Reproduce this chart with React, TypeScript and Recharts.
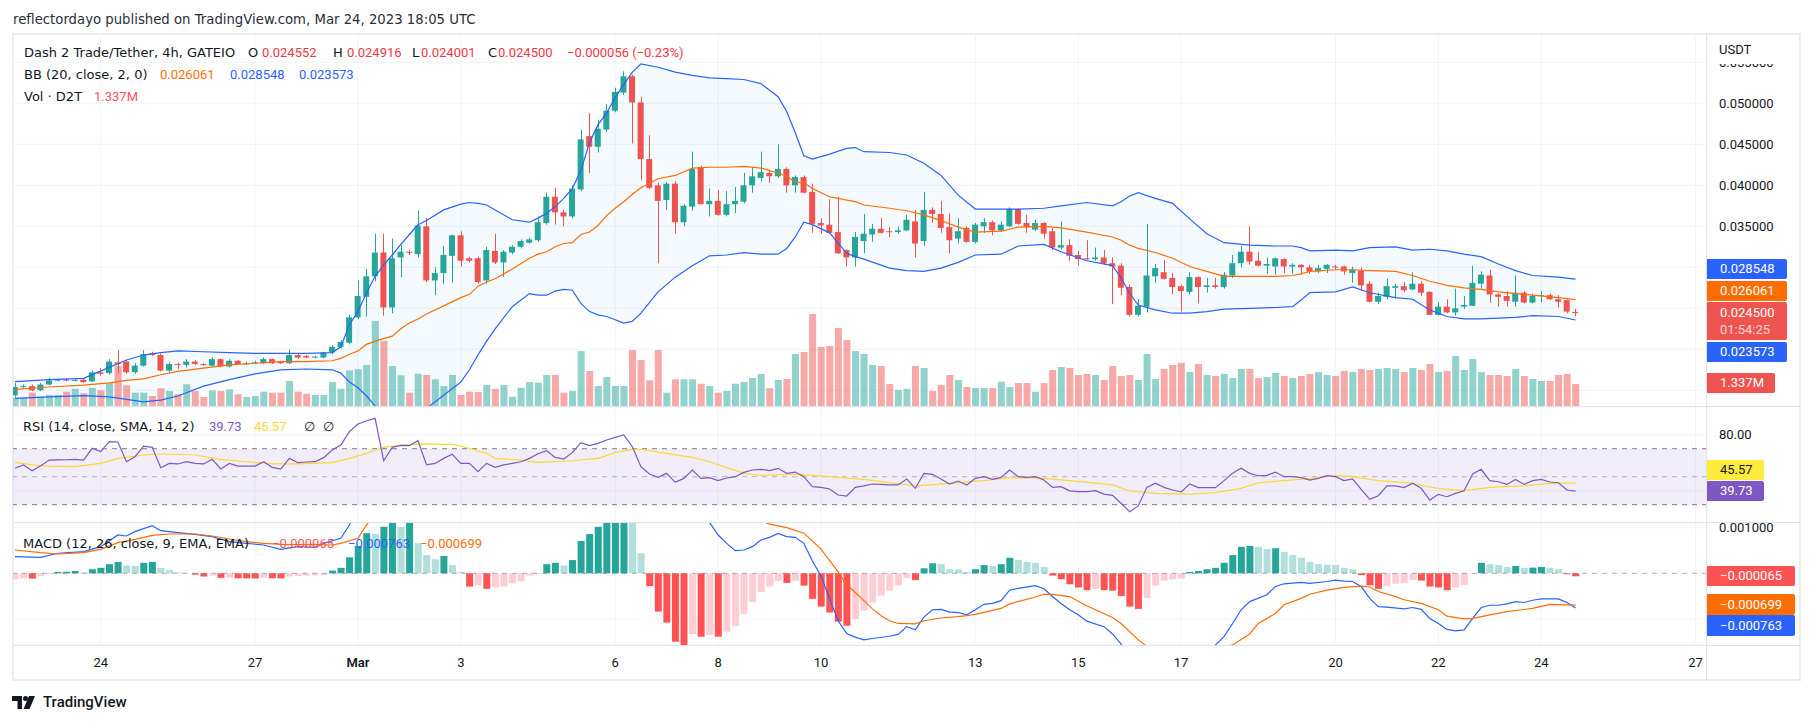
import React from 'react';
import { ComposedChart, Bar, Line, Area, XAxis, YAxis, CartesianGrid, ReferenceLine, ReferenceArea, Cell } from 'recharts';

// ---------- DATA ----------
const FIRST_INDEX = -10; // 4h candles, index 0 = Feb 24 00:00
const opens = [.0144,.0154,.0155,.0150,.0157,.0162,.0163,.0162,.0163,.0161,
.0172,.0171,.0184,.0185,.0172,.0180,.0195,.0193,.0174,.0182,.0181,.0185,.0182,.0180,.0188,.0179,.0186,.0182,.0183,.0183,
.0188,.0185,.0183,.0193,.0192,.0190,.0190,.0196,.0203,.0208,.0239,.0264,.0289,.0318,.0251,.0312,.0319,.0316,.0350,.0284,
.0293,.0314,.0339,.0311,.0311,.0284,.0320,.0306,.0318,.0325,.0330,.0333,.0354,.0386,.0367,.0362,.0395,.0460,.0447,.0468,
.0491,.0513,.0533,.0501,.0432,.0400,.0382,.0402,.0355,.0374,.0422,.0377,.0381,.0364,.0377,.0380,.0400,.0409,.0415,.0411,
.0420,.0400,.0410,.0392,.0354,.0352,.0343,.0321,.0312,.0332,.0340,.0347,.0344,.0343,.0345,.0356,.0332,.0370,.0365,.0349,
.0335,.0348,.0331,.0350,.0355,.0345,.0350,.0371,.0354,.0346,.0354,.0344,.0324,.0327,.0315,.0311,.0310,.0312,.0305,.0302,
.0276,.0242,.0252,.0289,.0294,.0287,.0277,.0270,.0288,.0276,.0278,.0276,.0290,.0305,.0319,.0308,.0302,.0301,.0310,.0301,
.0303,.0300,.0295,.0298,.0301,.0301,.0293,.0296,.0280,.0258,.0264,.0275,.0277,.0273,.0280,.0270,.0242,.0252,.0245,.0252,
.0253,.0280,.0290,.0267,.0265,.0258,.0269,.0257,.0265,.0266,.0261,.0260,.024552];
const highs = [.0159,.0157,.0157,.0159,.0165,.0164,.0165,.0164,.0164,.0174,
.0177,.0188,.0199,.0187,.0183,.0199,.0197,.0195,.0184,.0184,.0188,.0187,.0183,.0190,.0189,.0188,.0187,.0185,.0186,.0190,
.0189,.0186,.0200,.0194,.0193,.0192,.0197,.0205,.0211,.0242,.0284,.0298,.0341,.0341,.0335,.0327,.0321,.0369,.0360,.0300,
.0326,.0340,.0344,.0313,.0313,.0325,.0341,.0321,.0327,.0334,.0336,.0362,.0391,.0397,.0370,.0400,.0468,.0488,.0480,.0499,
.0519,.0539,.0535,.0508,.0461,.0403,.0404,.0405,.0377,.0441,.0424,.0396,.0394,.0393,.0398,.0415,.0421,.0441,.0419,.0450,
.0422,.0412,.0412,.0402,.0360,.0383,.0386,.0322,.0343,.0365,.0353,.0360,.0349,.0350,.0364,.0370,.0392,.0373,.0381,.0366,
.0360,.0350,.0354,.0360,.0357,.0356,.0373,.0372,.0364,.0358,.0355,.0348,.0356,.0334,.0320,.0333,.0324,.0321,.0312,.0305,
.0279,.0261,.0353,.0304,.0309,.0293,.0279,.0294,.0289,.0287,.0287,.0294,.0315,.0326,.0350,.0319,.0312,.0312,.0311,.0305,
.0304,.0303,.0303,.0304,.0303,.0302,.0301,.0300,.0283,.0269,.0286,.0280,.0282,.0294,.0283,.0271,.0258,.0261,.0274,.0265,
.0302,.0295,.0297,.0268,.0271,.0290,.0271,.0268,.0271,.0268,.0266,.0261,.024916];
const lows = [.0142,.0152,.0149,.0149,.0156,.0161,.0161,.0161,.0159,.0160,
.0168,.0169,.0170,.0170,.0170,.0179,.0192,.0173,.0172,.0176,.0178,.0181,.0180,.0179,.0178,.0178,.0181,.0181,.0182,.0182,
.0182,.0182,.0182,.0188,.0189,.0189,.0189,.0194,.0201,.0206,.0237,.0240,.0283,.0241,.0244,.0288,.0315,.0312,.0282,.0266,
.0280,.0281,.0301,.0306,.0280,.0280,.0304,.0288,.0316,.0323,.0329,.0331,.0352,.0352,.0350,.0360,.0393,.0415,.0440,.0465,
.0489,.0510,.0451,.0406,.0395,.0305,.0370,.0341,.0350,.0369,.0377,.0362,.0363,.0362,.0366,.0378,.0391,.0405,.0403,.0409,
.0391,.0391,.0390,.0342,.0341,.0341,.0316,.0301,.0301,.0317,.0331,.0341,.0337,.0341,.0344,.0312,.0326,.0354,.0342,.0317,
.0329,.0330,.0329,.0342,.0339,.0343,.0349,.0352,.0342,.0344,.0335,.0321,.0322,.0308,.0302,.0309,.0308,.0303,.0255,.0266,
.0240,.0240,.0245,.0281,.0285,.0267,.0246,.0267,.0256,.0269,.0274,.0274,.0287,.0300,.0303,.0301,.0292,.0291,.0293,.0292,
.0293,.0292,.0293,.0293,.0297,.0291,.0281,.0271,.0257,.0255,.0261,.0262,.0270,.0272,.0265,.0242,.0241,.0244,.0241,.0249,
.0253,.0274,.0257,.0252,.0252,.0252,.0256,.0256,.0257,.0260,.0251,.0244,.024001];
const closes = [.0154,.0155,.0150,.0157,.0162,.0163,.0162,.01625,.0160,.0172,
.0170,.0185,.0182,.0172,.0180,.0194,.0193,.0174,.0182,.0181,.0185,.0182,.0181,.0188,.0179,.0186,.0182,.0183,.0184,.0188,
.0183,.0183,.0193,.0190,.0190,.0191,.0196,.0203,.0209,.0239,.0265,.0289,.0318,.0251,.0311,.0319,.0318,.0351,.0284,.0293,
.0315,.0339,.0308,.0308,.0282,.0321,.0306,.0319,.0325,.0332,.0334,.0355,.0386,.0367,.0362,.0396,.0456,.0447,.0469,.0491,
.0514,.0533,.0501,.0432,.0397,.0381,.0402,.0355,.0375,.0420,.0377,.0381,.0364,.0377,.0381,.0400,.0411,.0416,.0411,.0420,
.0400,.0410,.0391,.0353,.0351,.0342,.0317,.0312,.0337,.0341,.0347,.0342,.0343,.0345,.0358,.0329,.0370,.0365,.0348,.0333,
.0344,.0331,.0352,.0355,.0345,.0352,.0371,.0353,.0349,.0354,.0341,.0324,.0327,.0314,.0310,.0310,.0312,.0305,.0301,.0275,
.0242,.0253,.0290,.0299,.0286,.0276,.0271,.0288,.0276,.0278,.0276,.0291,.0305,.0319,.0307,.0302,.0304,.0311,.0301,.0303,
.0300,.0295,.0299,.0303,.0300,.0295,.0297,.0278,.0258,.0265,.0277,.0277,.0272,.0280,.0269,.0242,.0252,.0245,.0250,.0254,
.0281,.0291,.0267,.0264,.0259,.0269,.0257,.0265,.0266,.0261,.0258,.0246,.0245];
// volume in millions
const volumes = [0.54,0.54,0.83,0.60,0.70,0.70,0.89,1.06,0.80,1.12,
0.97,1.38,2.38,1.26,0.83,0.83,0.64,1.09,0.93,0.74,1.32,0.93,0.58,0.97,0.93,1.03,0.74,0.58,0.64,0.89,
0.83,0.83,1.51,0.89,0.77,0.70,0.70,1.45,1.06,2.13,2.19,2.44,5.00,3.83,2.38,1.84,0.83,1.93,1.86,1.61,
1.22,1.86,0.70,0.89,0.87,1.28,1.06,1.28,0.60,1.12,1.45,1.41,1.86,1.86,0.83,0.93,3.25,2.09,1.22,1.74,
1.22,1.22,3.31,2.73,1.55,3.31,0.83,1.61,1.61,1.61,1.35,1.22,0.83,0.93,1.35,1.45,1.68,1.92,1.10,1.57,
1.63,3.08,3.20,5.40,3.49,3.54,4.59,3.89,3.25,3.08,2.44,2.38,1.34,0.99,1.05,2.38,2.27,0.93,1.28,1.86,
1.57,1.16,1.10,1.10,1.10,1.47,1.16,1.39,1.39,0.89,1.39,2.15,2.32,2.27,1.86,1.92,1.86,1.57,2.38,1.80,
1.86,1.57,3.08,1.63,2.21,2.44,2.56,2.03,2.50,1.86,1.80,1.92,1.68,2.21,2.21,1.68,1.74,1.98,1.80,1.68,
1.80,1.92,2.03,1.86,1.80,2.09,2.03,2.21,2.15,2.21,2.27,2.21,2.03,2.27,2.15,2.50,2.03,2.09,2.96,2.15,
2.79,2.03,1.86,1.86,1.80,2.21,1.80,1.63,1.51,1.51,1.86,1.92,1.337];

// Bollinger Bands (20, 2) read at selected candles
const bbIdx = [-10,-6,-2,1,3,5,7,9,12,15,18,21,24,27,28,29,30,31,32,33,34,35,36,37,38,40,42,43,44,45,46,48,50,51,52,53,54,55,56,57,58,59,60,61,62,63,65,67,69,71,73,75,77,79,80,81,82,83,85,87,88,89,92,94,96,98,100,102,105,107,110,112,115,118,119,120,121,123,125,127,129,131,134,137,139,140,141,144,146,148,151,153,155,157,159,161,163,165,167,170,172];
const bbUpper = [.01605,.0163,.01646,.0178,.0187,.0193,.0196,.0198,.0197,.0196,.0195,.0195,.0195,.0196,.0203,.0230,.0246,.0269,.0289,.0303,.0315,.0328,.0340,.0352,.0357,.0370,.0377,.0379,.0378,.0376,.0370,.0358,.0355,.0360,.0366,.0374,.0384,.0396,.0418,.0452,.0474,.0488,.0507,.0523,.0538,.0548,.0544,.0538,.0534,.0531,.0530,.0529,.0524,.0508,.0490,.0464,.0436,.0432,.0438,.0445,.0446,.0441,.0440,.0437,.0427,.0412,.0388,.0371,.0371,.0371,.0372,.0375,.0379,.0375,.0380,.0387,.0391,.0384,.0378,.0359,.0341,.0330,.0327,.0326,.0326,.0324,.0320,.0321,.0320,.0324,.0325,.0321,.0322,.0320,.0316,.0313,.0304,.0296,.0290,.0288,.028548];
const bbMid = [.01512,.0154,.01563,.0159,.0162,.0164,.0169,.0173,.0177,.0181,.0183,.0185,.0185,.0186,.0189,.0194,.0198,.0206,.0210,.0213,.0216,.0225,.0232,.0237,.0243,.0253,.0263,.0267,.0277,.0282,.0286,.0298,.0311,.0316,.0319,.0325,.0329,.0330,.0340,.0343,.0351,.0363,.0372,.0380,.0389,.0397,.0408,.0412,.0421,.0422,.0422,.0423,.0421,.0415,.0411,.0404,.0403,.0396,.0386,.0382,.0380,.0376,.0372,.0369,.0364,.0357,.0349,.0343,.0344,.0349,.0350,.0348,.0343,.0337,.0333,.0327,.0323,.0318,.0311,.0301,.0295,.0289,.0289,.0289,.0290,.0292,.0295,.0297,.0297,.0296,.0295,.0290,.0283,.0278,.0275,.0273,.0270,.0268,.0266,.0263,.026061];
const bbLower = [.01402,.0142,.01435,.0142,.0139,.0136,.0138,.0143,.0155,.0163,.0170,.0175,.0176,.0175,.0171,.0160,.0153,.0143,.0131,.0124,.0122,.0121,.0122,.0126,.0128,.0144,.0160,.0175,.0193,.0210,.0225,.0252,.0268,.0266,.0266,.0271,.0273,.0272,.0256,.0246,.0242,.0240,.0236,.0232,.0234,.0244,.0270,.0288,.0302,.0314,.0315,.0318,.0316,.0316,.0323,.0337,.0355,.0352,.0342,.0317,.0313,.0310,.0299,.0296,.0295,.0299,.0306,.0315,.0316,.0326,.0328,.0319,.0308,.0302,.0287,.0268,.0254,.0248,.0244,.0244,.0246,.0249,.0250,.0251,.0252,.0260,.0269,.0270,.0276,.0269,.0263,.0261,.0248,.0240,.0237,.0237,.0238,.0239,.0241,.0240,.023573];

// RSI (14) per candle and its SMA (14) read at selected candles
const rsiVal = [56.0,58.4,54.3,57.9,61.9,62.0,62.1,62.4,61.9,70.3,
67.9,75.0,74.8,60.7,64.3,71.9,71.0,56.4,59.5,59.1,60.7,59.5,59.1,62.4,55.5,59.5,57.6,57.6,57.6,60.7,
56.7,55.5,63.1,60.0,60.5,60.7,63.6,69.1,72.6,82.2,87.6,90.0,91.7,61.4,71.0,72.4,72.2,75.7,58.4,59.5,
63.1,66.0,59.5,59.5,53.6,59.5,56.7,58.4,59.5,60.7,63.1,66.4,68.6,63.8,62.6,67.2,74.3,72.2,73.8,76.2,
78.1,79.8,71.4,57.2,51.9,49.5,52.4,46.0,48.8,54.8,48.8,49.3,47.2,49.1,50.0,53.1,54.8,55.3,54.3,56.0,
52.4,53.3,50.0,42.9,42.4,41.2,36.9,36.2,42.4,43.4,44.8,44.5,44.1,44.1,48.4,41.7,52.4,51.7,48.4,44.8,
46.9,44.1,48.8,50.0,48.1,49.5,54.8,50.0,49.5,50.0,47.6,42.4,42.9,39.9,39.3,39.3,40.0,37.6,36.7,31.0,
25.0,29.1,42.4,45.3,42.4,40.5,39.1,44.8,42.2,42.2,42.2,47.2,52.4,56.0,52.4,50.7,51.0,53.3,50.0,50.0,
49.3,47.6,48.8,50.7,50.0,47.2,48.4,41.0,33.8,36.4,43.4,43.4,42.2,45.3,41.7,33.3,37.4,35.7,38.1,40.0,
51.9,55.3,47.2,46.4,44.5,48.1,44.5,47.2,48.1,46.2,45.7,40.5,39.73];
const rsiMaIdx = [-10,-8,-6,-3,0,2,5,7,11,14,17,20,23,27,29,31,33,35,37,41,42,45,46,49,51,55,58,60,62,63,66,69,71,75,77,81,85,89,95,99,103,106,109,113,118,120,123,127,130,133,135,138,141,144,146,149,153,154,156,159,162,166,169,172];
const rsiMaVal = [60.3,58.4,57.6,57.2,59.5,63.1,65.5,66.2,65.5,62.4,60.7,59.1,59.1,60.0,63.1,66.7,71.0,72.6,73.4,73.1,71.9,66.7,63.1,61.9,60.3,61.4,63.1,67.2,69.5,69.5,66.7,63.8,60.7,52.4,51.0,51.9,50.0,48.1,43.4,45.3,47.2,49.1,49.3,47.2,44.1,39.8,38.1,37.6,38.6,41.7,45.7,47.2,48.8,50.7,50.0,47.2,45.3,43.8,41.7,40.0,42.4,43.4,45.3,45.57];

// MACD (12, 26, 9): histogram per candle, MACD and signal lines read at selected candles
const histVal = [-0.000132,-0.00011,-0.000115,-0.00006,-0.00002,0.00003,0.000035,0.00005,0.00002,0.00009,
0.00012,0.0002,0.00025,0.00017,0.00016,0.00023,0.00025,0.00012,0.00007,0.00002,0.00001,-0.00003,-0.00007,-0.00005,-0.0001,-0.000095,-0.00011,-0.000112,-0.000115,-0.0001,
-0.00011,-0.000112,-0.00007,-0.00006,-0.00005,-0.000045,-0.00004,0.00006,0.00012,0.00035,0.0006,0.00088,0.00086,0.00102,0.00112,0.00102,0.00115,0.00066,0.0004,0.00031,
0.00038,0.00018,0.00003,-0.00029,-0.00026,-0.00034,-0.00031,-0.00029,-0.00022,-0.00018,-0.00005,-0.00002,0.0002,0.00023,0.00017,0.00029,0.00071,0.00086,0.00102,0.0013,
0.0015,0.0016,0.0012,0.00044,-0.00028,-0.00084,-0.00108,-0.0015,-0.0016,-0.00133,-0.00139,-0.00135,-0.00139,-0.00128,-0.00116,-0.00089,-0.00063,-0.00041,-0.00029,-0.00017,
-0.00021,-0.00016,-0.00027,-0.00056,-0.00073,-0.00086,-0.00106,-0.00115,-0.001,-0.00082,-0.00064,-0.00049,-0.00038,-0.00027,-0.0001,-0.00015,0.00011,0.00022,0.0002,0.00009,
0.000085,0.00003,0.00009,0.00018,0.00016,0.0002,0.00034,0.00029,0.00025,0.00023,0.00014,-0.00005,-0.00013,-0.00024,-0.00031,-0.00037,-0.00034,-0.00037,-0.00038,-0.0005,
-0.00073,-0.00078,-0.00054,-0.00027,-0.00016,-0.00013,-0.00012,0.00003,0.00005,0.00009,0.00012,0.00023,0.0004,0.00058,0.0006,0.00058,0.00053,0.00055,0.00047,0.0004,
0.00034,0.00025,0.0002,0.00019,0.00018,0.00012,0.00009,-0.00004,-0.00026,-0.00034,-0.00028,-0.00023,-0.00021,-0.00015,-0.00016,-0.00029,-0.00031,-0.00037,-0.00031,-0.00026,
-0.00001,0.00023,0.0002,0.00018,0.00014,0.00016,0.00012,0.000125,0.00014,0.00012,0.00009,-0.00002,-0.000065];
const macdIdx = [-10,-7,-5,-2,0,2,3,4,6,7,9,11,13,15,17,19,21,23,25,26,28,29,30,31,33,36,40,42,45,48,50,53,56,59,61,63,64,66,68,70,71,72,73,74,75,76,77,78,79,80,81,82,83,84,85,86,87,88,89,90,92,93,94,95,96,97,98,99,100,101,102,103,104,105,106,107,109,110,111,112,113,114,115,117,118,119,120,122,125,128,130,131,132,133,134,136,137,138,140,141,143,144,145,146,147,148,149,150,152,153,154,155,156,157,158,159,160,161,162,163,164,165,166,167,168,170,171,172];
const macdVal = [0.000365,0.00035,0.00044,0.000474,0.000584,0.00084,0.000818,0.000913,0.001045,0.000935,0.000891,0.000855,0.000803,0.000694,0.000657,0.000621,0.000526,0.000584,0.000569,0.000657,0.000767,0.00106,0.0015,0.0019,0.0024,0.003,0.0028,0.0025,0.0022,0.0023,0.0025,0.0029,0.0034,0.0042,0.0045,0.0041,0.0035,0.0028,0.0021,0.0014,0.00112,0.00084,0.000657,0.000496,0.000511,0.000584,0.00073,0.000789,0.000876,0.000803,0.000789,0.000657,0.00027,-0.00006,-0.00055,-0.00104,-0.00132,-0.0014,-0.00146,-0.00143,-0.00138,-0.00134,-0.00117,-0.00124,-0.00096,-0.0008,-0.00079,-0.00085,-0.00086,-0.00091,-0.0008,-0.00068,-0.00066,-0.0006,-0.00037,-0.00033,-0.00027,-0.00034,-0.00051,-0.00066,-0.0008,-0.00091,-0.00105,-0.00117,-0.00133,-0.00155,-0.0019,-0.0022,-0.0023,-0.002,-0.00157,-0.00139,-0.0011,-0.0008,-0.00062,-0.00047,-0.00029,-0.00023,-0.0002,-0.00022,-0.00018,-0.00015,-0.00017,-0.00018,-0.00029,-0.00055,-0.00073,-0.00074,-0.00078,-0.00075,-0.00079,-0.00099,-0.0011,-0.00123,-0.00126,-0.00124,-0.00099,-0.00075,-0.0007,-0.0007,-0.00067,-0.00062,-0.00064,-0.00059,-0.00056,-0.00056,-0.00064,-0.000763];
const signalIdx = [-10,-7,-5,-2,0,2,4,6,8,11,13,15,17,19,21,23,25,27,28,30,31,32,33,36,40,42,45,50,55,60,63,65,67,69,71,73,75,77,78,80,82,83,84,86,87,88,89,90,91,92,93,95,96,98,100,101,102,105,106,109,110,111,113,115,116,118,119,121,122,124,126,128,131,132,134,135,137,138,140,141,143,145,147,148,149,151,152,154,156,157,159,160,162,164,167,169,172];
const signalVal = [0.000511,0.000453,0.000423,0.000453,0.000526,0.000672,0.000745,0.000833,0.000862,0.000862,0.000818,0.000752,0.000694,0.000657,0.000635,0.000628,0.000635,0.000621,0.000657,0.000767,0.00106,0.0013,0.0014,0.0019,0.0024,0.0025,0.0025,0.0025,0.0027,0.0032,0.0037,0.0039,0.0038,0.0034,0.0027,0.002,0.00145,0.00115,0.00108,0.001,0.00088,0.00071,0.00053,0.00003,-0.00025,-0.00042,-0.0006,-0.00078,-0.00093,-0.00104,-0.0011,-0.00111,-0.00104,-0.00098,-0.00095,-0.00093,-0.0009,-0.00077,-0.00067,-0.00052,-0.00046,-0.00046,-0.00051,-0.00071,-0.0008,-0.00097,-0.0011,-0.00146,-0.0016,-0.0018,-0.0019,-0.0018,-0.00163,-0.00157,-0.00133,-0.0011,-0.00088,-0.00069,-0.00055,-0.00046,-0.00037,-0.00031,-0.00028,-0.0003,-0.0004,-0.00051,-0.00058,-0.00066,-0.0008,-0.00094,-0.001,-0.00099,-0.00091,-0.00084,-0.00077,-0.00068,-0.000699];

const dayTicks = [0, 18, 30, 42, 60, 72, 84, 102, 114, 126, 144, 156, 168, 186];
const dayLabels = ['24', '27', 'Mar', '3', '6', '8', '10', '13', '15', '17', '20', '22', '24', '27'];
const priceTicks = [0.015, 0.02, 0.025, 0.03, 0.035, 0.04, 0.045, 0.05, 0.055];
const priceTicksLabelled = [0.035, 0.04, 0.045, 0.05, 0.055]; // lower ones sit under the value boxes
const rsiTicks = [40, 80];
const rsiTicksLabelled = [80];
const macdTicks = [-0.001, 0.001];
const macdTicksLabelled = [0.001];

// ---------- LAYOUT ----------
const PLOT_L = 13;
const PW = 1694;
const AW = 94;
const MAIN_T = 34, MAIN_H = 373;
const RSI_T = 407, RSI_H = 116;
const MACD_T = 523, MACD_H = 122, TIME_H = 35;
const X_DOMAIN: [number, number] = [-10.23, 187.33];
const PRICE_DOMAIN: [number, number] = [0.012963, 0.058451];
const VOL_DOMAIN: [number, number] = [0, 21.67];
const RSI_DOMAIN: [number, number] = [16.93, 99.79];
const MACD_DOMAIN: [number, number] = [-0.001572, 0.001103];

const GREEN = '#26a69a';
const RED = '#ef5350';
const FONT = 'Roboto, "Noto Sans", sans-serif';
const LFONT = '"DejaVu Sans", Roboto, sans-serif';
const TXT = '#131722';
const GRID = '#f0f3fa';

// ---------- ROWS ----------
const candles = opens.map((o, i) => ({
  n: FIRST_INDEX + i, o, h: highs[i], l: lows[i], c: closes[i],
  hl: [lows[i], highs[i]], vol: volumes[i],
  rsi: rsiVal[i], hist: histVal[i],
} as any));
const bbRows = bbIdx.map((n, i) => ({ n, up: bbUpper[i], mid: bbMid[i], lo: bbLower[i], band: [bbLower[i], bbUpper[i]] }));
const mainRows = candles.map((r: any) => ({ ...r }));
bbRows.forEach((b) => { Object.assign(mainRows[b.n - FIRST_INDEX], { up: b.up, mid: b.mid, lo: b.lo }); });
const rsiRows = candles.map((r: any) => ({ n: r.n, rsi: r.rsi } as any));
rsiMaIdx.forEach((n, i) => { rsiRows[n - FIRST_INDEX].ma = rsiMaVal[i]; });
const macdRows = candles.map((r: any) => ({ n: r.n, hist: r.hist } as any));
macdIdx.forEach((n, i) => { macdRows[n - FIRST_INDEX].macd = macdVal[i]; });
signalIdx.forEach((n, i) => { macdRows[n - FIRST_INDEX].signal = signalVal[i]; });

const histColor = (i: number) => {
  const v = histVal[i];
  const prev = i > 0 ? histVal[i - 1] : v;
  if (v >= 0) return v > prev ? '#26a69a' : '#b2dfdb';
  return v < prev ? '#ff5252' : '#ffcdd2';
};

const CandleShape = (props: any) => {
  const { x, y, width, height, payload } = props;
  if (!payload || x == null) return null;
  const top = height < 0 ? y + height : y;
  const hh = Math.abs(height);
  const { o, h, l, c } = payload;
  const k = h - l > 0 ? hh / (h - l) : 0;
  const yO = top + (h - o) * k;
  const yC = top + (h - c) * k;
  const bTop = Math.min(yO, yC);
  const bH = Math.max(1, Math.abs(yO - yC));
  const color = c >= o ? GREEN : RED;
  const cx = Math.round(x + width / 2) + 0.5;
  return (
    <g>
      <line x1={cx} x2={cx} y1={top} y2={top + hh} stroke={color} strokeWidth={1} />
      <rect x={x} y={bTop} width={width} height={bH} fill={color} />
    </g>
  );
};

const DayTick = (props: any) => {
  const { x, y, payload } = props;
  const idx = dayTicks.indexOf(payload.value);
  const label = idx >= 0 ? dayLabels[idx] : '';
  return (
    <text x={x} y={y} dy="0.71em" textAnchor="middle" fill={TXT} fontSize={13} fontFamily={FONT} fontWeight={label === 'Mar' ? 600 : 400}>
      {label}
    </text>
  );
};

const makeAxisTick = (shown: number[], digits: number) => (props: any) => {
  const { x, y, payload } = props;
  const v = payload.value;
  if (!shown.some((s) => Math.abs(s - v) < 1e-9)) return <g />;
  return (
    <text x={x} y={y} dy="0.355em" textAnchor="start" fill={TXT} fontSize={13} fontFamily={FONT}>
      {v.toFixed(digits)}
    </text>
  );
};
const PriceTick = makeAxisTick(priceTicksLabelled, 6);
const RsiTick = makeAxisTick(rsiTicksLabelled, 2);
const MacdTick = makeAxisTick(macdTicksLabelled, 6);

const abs = (left: number, top: number, extra: any = {}) => ({ position: 'absolute' as const, left, top, whiteSpace: 'nowrap' as const, ...extra });

const Txt = ({ x, y, color = TXT, size = 13, children, weight = 400, font = FONT }: any) => (
  <div style={abs(x, y - 8, { color, fontSize: size, lineHeight: '16px', fontFamily: font, fontWeight: weight })}>{children}</div>
);

const Box = ({ x, y, w, h, bg, color = '#fff', children }: any) => (
  <div style={abs(x, y, { width: w, height: h, background: bg, color, fontSize: 13, fontFamily: FONT, lineHeight: h + 'px', paddingLeft: 13, boxSizing: 'border-box', borderRadius: '0 2px 2px 0' })}>{children}</div>
);

export default function App() {
  return (
    <div style={{ position: 'absolute', left: 0, top: 0, width: 1814, height: 724, background: '#fff', overflow: 'hidden', fontFamily: FONT }}>
      {/* title */}
      <Txt x={13} y={20} size={13.25} color="#2a2e39" font={LFONT}>reflectordayo published on TradingView.com, Mar 24, 2023 18:05 UTC</Txt>

      {/* frame */}
      <div style={abs(12, 33, { width: 1789, height: 648, border: '2px solid #e9ecf2', boxSizing: 'border-box' })} />

      {/* MAIN PANE: grid, BB fill, price axis */}
      <div style={abs(PLOT_L, MAIN_T)}>
        <ComposedChart width={PW + AW} height={MAIN_H} data={bbRows} margin={{ top: 0, right: 0, bottom: 0, left: 0 }}>
          <CartesianGrid stroke={GRID} />
          <XAxis type="number" dataKey="n" domain={X_DOMAIN} ticks={dayTicks} allowDataOverflow hide />
          <YAxis orientation="right" type="number" domain={PRICE_DOMAIN} allowDataOverflow ticks={priceTicks} interval={0} width={AW} tickSize={0} tickMargin={12} axisLine={false} tickLine={false} tick={PriceTick} />
          <Area dataKey="band" stroke="none" fill="#2196f3" fillOpacity={0.05} isAnimationActive={false} />
        </ComposedChart>
      </div>
      {/* volume */}
      <div style={abs(PLOT_L, MAIN_T)}>
        <ComposedChart width={PW} height={MAIN_H} data={candles} margin={{ top: 0, right: 0, bottom: 0, left: 0 }}>
          <XAxis type="number" dataKey="n" domain={X_DOMAIN} allowDataOverflow hide />
          <YAxis type="number" domain={VOL_DOMAIN} allowDataOverflow hide />
          <Bar dataKey="vol" barSize={7} isAnimationActive={false}>
            {candles.map((r: any, i: number) => (
              <Cell key={i} fill={r.c >= r.o ? 'rgba(38,166,154,0.5)' : 'rgba(239,83,80,0.5)'} />
            ))}
          </Bar>
        </ComposedChart>
      </div>
      {/* bands + candles */}
      <div style={abs(PLOT_L, MAIN_T)}>
        <ComposedChart width={PW} height={MAIN_H} data={mainRows} margin={{ top: 0, right: 0, bottom: 0, left: 0 }}>
          <XAxis type="number" dataKey="n" domain={X_DOMAIN} allowDataOverflow hide />
          <YAxis type="number" domain={PRICE_DOMAIN} allowDataOverflow hide />
          <Line dataKey="up" stroke="#2962ff" strokeWidth={1.2} dot={false} connectNulls isAnimationActive={false} />
          <Line dataKey="lo" stroke="#2962ff" strokeWidth={1.2} dot={false} connectNulls isAnimationActive={false} />
          <Line dataKey="mid" stroke="#ff6d00" strokeWidth={1.2} dot={false} connectNulls isAnimationActive={false} />
          <Bar dataKey="hl" barSize={6} isAnimationActive={false} shape={(p: any) => <CandleShape {...p} />} />
        </ComposedChart>
      </div>

      {/* RSI PANE */}
      <div style={abs(PLOT_L, RSI_T)}>
        <ComposedChart width={PW + AW} height={RSI_H} data={rsiRows} margin={{ top: 0, right: 0, bottom: 0, left: 0 }}>
          <CartesianGrid stroke={GRID} />
          <XAxis type="number" dataKey="n" domain={X_DOMAIN} ticks={dayTicks} allowDataOverflow hide />
          <YAxis orientation="right" type="number" domain={RSI_DOMAIN} allowDataOverflow ticks={rsiTicks} interval={0} width={AW} tickSize={0} tickMargin={12} axisLine={false} tickLine={false} tick={RsiTick} />
          <ReferenceArea y1={30} y2={70} fill="#7e57c2" fillOpacity={0.1} stroke="none" />
          <ReferenceLine y={70} stroke="#787b86" strokeDasharray="5 5" />
          <ReferenceLine y={50} stroke="#787b86" strokeOpacity={0.5} strokeDasharray="5 5" />
          <ReferenceLine y={30} stroke="#787b86" strokeDasharray="5 5" />
          <Line dataKey="ma" stroke="#fdd835" strokeWidth={1.2} dot={false} connectNulls isAnimationActive={false} />
          <Line dataKey="rsi" stroke="#7e57c2" strokeWidth={1.2} dot={false} connectNulls isAnimationActive={false} />
        </ComposedChart>
      </div>

      {/* MACD PANE + time axis */}
      <div style={abs(PLOT_L, MACD_T)}>
        <ComposedChart width={PW + AW} height={MACD_H + TIME_H} data={macdRows} margin={{ top: 0, right: 0, bottom: 0, left: 0 }}>
          <CartesianGrid stroke={GRID} />
          <XAxis type="number" dataKey="n" domain={X_DOMAIN} ticks={dayTicks} interval={0} allowDataOverflow height={TIME_H} axisLine={false} tickLine={false} tickSize={0} tickMargin={13} tick={<DayTick />} />
          <YAxis orientation="right" type="number" domain={MACD_DOMAIN} allowDataOverflow ticks={macdTicks} interval={0} width={AW} tickSize={0} tickMargin={12} axisLine={false} tickLine={false} tick={MacdTick} />
          <ReferenceLine y={0} stroke="#787b86" strokeOpacity={0.6} strokeDasharray="5 5" />
          <Bar dataKey="hist" barSize={7} isAnimationActive={false}>
            {macdRows.map((_: any, i: number) => (
              <Cell key={i} fill={histColor(i)} />
            ))}
          </Bar>
          <Line dataKey="macd" stroke="#2962ff" strokeWidth={1.2} dot={false} connectNulls isAnimationActive={false} />
          <Line dataKey="signal" stroke="#ff6d00" strokeWidth={1.2} dot={false} connectNulls isAnimationActive={false} />
        </ComposedChart>
      </div>

      {/* separators */}
      <div style={abs(1706, 34, { width: 1, height: 646, background: '#e0e3eb' })} />
      <div style={abs(13, 406, { width: 1787, height: 1, background: '#e0e3eb' })} />
      <div style={abs(13, 522, { width: 1787, height: 1, background: '#e0e3eb' })} />
      <div style={abs(13, 645, { width: 1787, height: 1, background: '#e0e3eb' })} />

      {/* axis header */}
      <div style={abs(1708, 35, { width: 91, height: 29, background: '#fff' })} />
      <Txt x={1719} y={50}>USDT</Txt>

      {/* main legends */}
      <Txt x={24} y={53} font={LFONT}>Dash 2 Trade/Tether, 4h, GATEIO</Txt>
      <Txt x={248} y={53} font={LFONT}>O</Txt>
      <Txt x={262} y={53} color="#f23645">0.024552</Txt>
      <Txt x={333} y={53} font={LFONT}>H</Txt>
      <Txt x={347} y={53} color="#f23645">0.024916</Txt>
      <Txt x={412} y={53} font={LFONT}>L</Txt>
      <Txt x={421} y={53} color="#f23645">0.024001</Txt>
      <Txt x={488} y={53} font={LFONT}>C</Txt>
      <Txt x={498} y={53} color="#f23645">0.024500</Txt>
      <Txt x={567} y={53} color="#f23645">−0.000056 (−0.23%)</Txt>
      <Txt x={24} y={75} font={LFONT}>BB (20, close, 2, 0)</Txt>
      <Txt x={160} y={75} color="#ff6d00">0.026061</Txt>
      <Txt x={230} y={75} color="#2962ff">0.028548</Txt>
      <Txt x={299} y={75} color="#2962ff">0.023573</Txt>
      <Txt x={24} y={97} font={LFONT}>Vol · D2T</Txt>
      <Txt x={94} y={97} color="#f7525f">1.337M</Txt>

      <Txt x={23} y={427} font={LFONT}>RSI (14, close, SMA, 14, 2)</Txt>
      <Txt x={209} y={427} color="#7e57c2">39.73</Txt>
      <Txt x={254} y={427} color="#fdd835">45.57</Txt>
      <Txt x={304} y={427}>∅</Txt>
      <Txt x={323} y={427}>∅</Txt>

      <Txt x={23} y={544} font={LFONT}>MACD (12, 26, close, 9, EMA, EMA)</Txt>
      <Txt x={272} y={544} color="#ff5252">−0.000065</Txt>
      <Txt x={348} y={544} color="#2962ff">−0.000763</Txt>
      <Txt x={420} y={544} color="#ff6d00">−0.000699</Txt>

      {/* price scale labels */}
      <Box x={1707} y={259} w={80} h={20} bg="#2962ff">0.028548</Box>
      <Box x={1707} y={281} w={80} h={20} bg="#ff6d00">0.026061</Box>
      <div style={abs(1707, 302, { width: 80, height: 38, background: '#ef5350', color: '#fff', fontSize: 13, fontFamily: FONT, paddingLeft: 13, boxSizing: 'border-box', borderRadius: '0 2px 2px 0', lineHeight: '17px', paddingTop: 2 })}>
        0.024500<br /><span style={{ opacity: 0.75 }}>01:54:25</span>
      </div>
      <Box x={1707} y={342} w={80} h={20} bg="#2962ff">0.023573</Box>
      <Box x={1707} y={373} w={68} h={20} bg="#ef5350">1.337M</Box>

      <Box x={1707} y={460} w={57} h={20} bg="#ffeb3b" color={TXT}>45.57</Box>
      <Box x={1707} y={481} w={57} h={20} bg="#7e57c2">39.73</Box>

      <Box x={1707} y={566} w={88} h={20} bg="#ff5252">−0.000065</Box>
      <Box x={1707} y={594} w={88} h={21} bg="#ff6d00">−0.000699</Box>
      <Box x={1707} y={615} w={88} h={21} bg="#2962ff">−0.000763</Box>

      {/* logo */}
      <svg style={abs(12, 695)} width={26} height={15} viewBox="0 0 26 15">
        <path d="M0 1h10v13H5.5V6H0z" fill={TXT} />
        <circle cx={13.5} cy={3.5} r={2.5} fill={TXT} />
        <path d="M17 1h6l-5.5 13h-6z" fill={TXT} />
      </svg>
      <Txt x={43} y={702} size={15} weight={500}>TradingView</Txt>
    </div>
  );
}
